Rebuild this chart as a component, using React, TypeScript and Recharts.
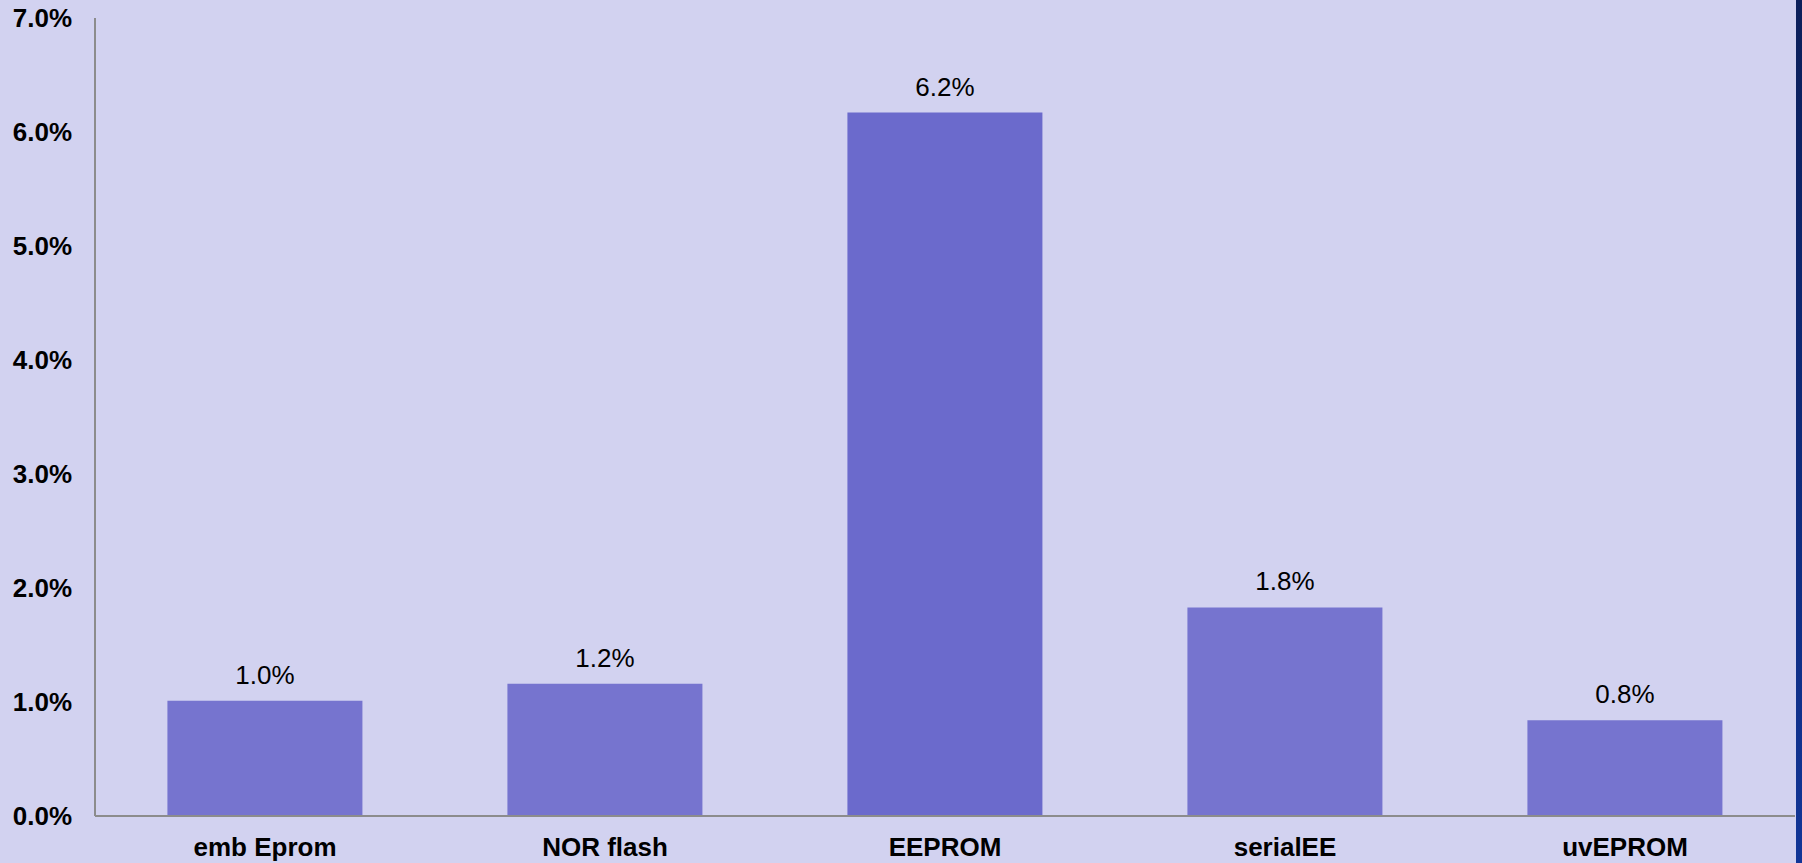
import React from "react";
import { BarChart, Bar, XAxis, YAxis, Cell, LabelList } from "recharts";

// Memory categories and their share (percent)
const categories = ["emb Eprom", "NOR flash", "EEPROM", "serialEE", "uvEPROM"];
const shares = [1.01, 1.16, 6.17, 1.83, 0.84];
const yTicks = [0, 1, 2, 3, 4, 5, 6, 7];

const BAR_COLORS = ["#7674cf", "#7674cf", "#6b6acc", "#7674cf", "#7674cf"];
const FONT = "'Liberation Sans', Arial, Helvetica, sans-serif";

const data = categories.map((name, i) => ({ name, share: shares[i] }));

const fmt = (v: number) => `${v.toFixed(1)}%`;

export default function App() {
  return (
    <div
      style={{
        position: "absolute",
        left: 0,
        top: 0,
        width: 1802,
        height: 863,
        background: "#d2d2f0",
        overflow: "hidden",
        fontFamily: FONT,
      }}
    >
      <BarChart
        width={1796}
        height={863}
        data={data}
        margin={{ top: 18, right: 1, left: 0, bottom: 0 }}
        barCategoryGap="21.3%"
      >
        <XAxis
          dataKey="name"
          height={47}
          tickSize={0}
          tickMargin={22}
          axisLine={{ stroke: "#8c8c8c", strokeWidth: 2 }}
          tickLine={false}
          tick={{ fill: "#000", fontSize: 26, fontWeight: 700, fontFamily: FONT }}
          interval={0}
        />
        <YAxis
          width={95}
          domain={[0, 7]}
          ticks={yTicks}
          tickFormatter={fmt}
          tickSize={0}
          tickMargin={23}
          axisLine={{ stroke: "#8c8c8c", strokeWidth: 2 }}
          tickLine={false}
          tick={{ fill: "#000", fontSize: 26, fontWeight: 700, fontFamily: FONT }}
          interval={0}
        />
        <Bar dataKey="share" isAnimationActive={false}>
          {data.map((d, i) => (
            <Cell key={d.name} fill={BAR_COLORS[i]} />
          ))}
          <LabelList
            dataKey="share"
            position="top"
            offset={17}
            formatter={(v: number) => fmt(v)}
            style={{ fill: "#000", fontSize: 26, fontFamily: FONT }}
          />
        </Bar>
      </BarChart>
      <div
        style={{
          position: "absolute",
          left: 1796,
          top: 0,
          width: 6,
          height: 863,
          background: "linear-gradient(to bottom, #0b1f5a, #113597)",
        }}
      />
    </div>
  );
}
